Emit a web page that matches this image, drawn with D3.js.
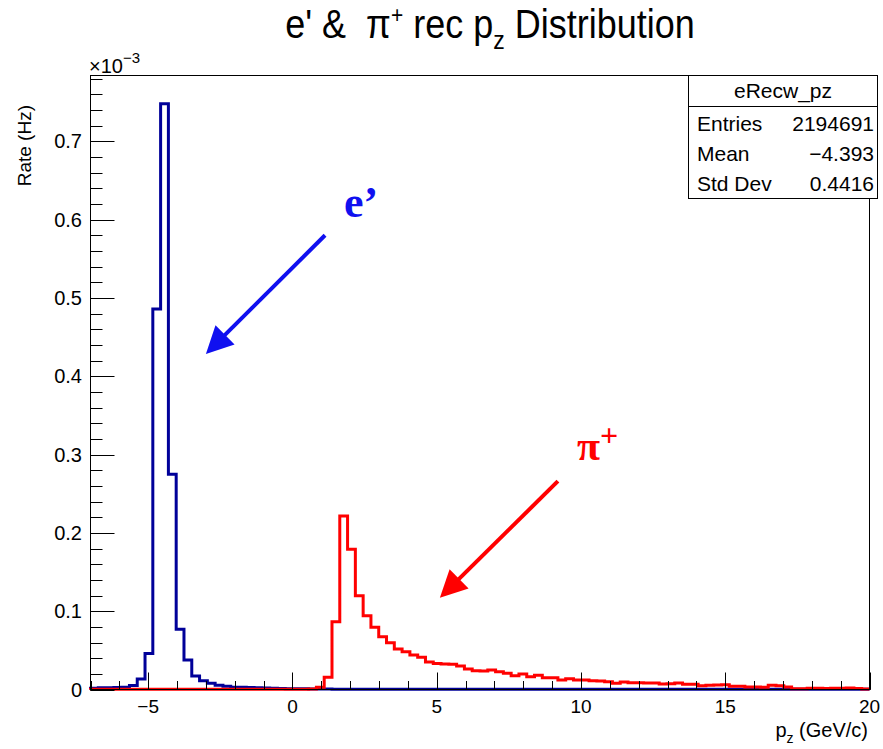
<!DOCTYPE html>
<html>
<head>
<meta charset="utf-8">
<script src="https://cdn.jsdelivr.net/npm/d3@7"></script>
<style>
  html, body { margin: 0; padding: 0; background: #ffffff; }
  svg { display: block; }
  text { font-family: "Liberation Sans", Arial, Helvetica, sans-serif; }
  text.serif { font-family: "Liberation Serif", "Times New Roman", serif; font-weight: bold; }
</style>
</head>
<body>
<svg id="chart" width="883" height="749"></svg>
<script>
// ---------------- data (rates in units of 1e-3 Hz) ----------------
const xMin = -7;
const xMax = 20;
const binWidth = 0.27;           // 100 bins from -7 to 20 GeV/c

const electronRate = [
  0.0015, 0.0023, 0.0023, 0.0025, 0.0029, 0.0052, 0.0134, 0.0460, 0.4860, 0.7480,
  0.2750, 0.0769, 0.0377, 0.0171, 0.0112, 0.0079, 0.0054, 0.0040, 0.0030, 0.0028,
  0.0027, 0.0022, 0.0020, 0.0015, 0.0013, 0.0011, 0.0009, 0.0008, 0.0006, 0.0005,
  0.0005, 0.0004, 0.0004, 0.0004, 0.0003, 0.0003, 0.0003, 0.0003, 0.0003, 0.0003,
  0.0003, 0.0003, 0.0002, 0.0002, 0.0002, 0.0002, 0.0002, 0.0002, 0.0002, 0.0002,
  0.0002, 0.0002, 0.0002, 0.0002, 0.0002, 0.0002, 0.0002, 0.0002, 0.0002, 0.0002,
  0.0002, 0.0002, 0.0002, 0.0002, 0.0002, 0.0002, 0.0002, 0.0002, 0.0002, 0.0002,
  0.0002, 0.0002, 0.0002, 0.0002, 0.0002, 0.0002, 0.0002, 0.0002, 0.0002, 0.0002,
  0.0002, 0.0002, 0.0002, 0.0002, 0.0002, 0.0002, 0.0002, 0.0002, 0.0002, 0.0002,
  0.0002, 0.0002, 0.0002, 0.0002, 0.0002, 0.0002, 0.0002, 0.0002, 0.0002, 0.0002
];

const pionRate = [
  0.0002, 0.0002, 0.0002, 0.0002, 0.0002, 0.0002, 0.0002, 0.0002, 0.0002, 0.0002,
  0.0002, 0.0002, 0.0002, 0.0002, 0.0002, 0.0002, 0.0002, 0.0002, 0.0002, 0.0002,
  0.0002, 0.0002, 0.0002, 0.0002, 0.0002, 0.0003, 0.0003, 0.0004, 0.0006, 0.0028,
  0.0156, 0.0866, 0.2216, 0.1790, 0.1198, 0.0943, 0.0794, 0.0674, 0.0598, 0.0517,
  0.0483, 0.0440, 0.0411, 0.0350, 0.0333, 0.0326, 0.0322, 0.0300, 0.0262, 0.0240,
  0.0236, 0.0249, 0.0227, 0.0207, 0.0176, 0.0198, 0.0164, 0.0181, 0.0151, 0.0151,
  0.0121, 0.0138, 0.0121, 0.0121, 0.0112, 0.0109, 0.0100, 0.0079, 0.0096, 0.0087,
  0.0087, 0.0083, 0.0083, 0.0070, 0.0074, 0.0083, 0.0066, 0.0066, 0.0049, 0.0053,
  0.0057, 0.0060, 0.0041, 0.0041, 0.0032, 0.0032, 0.0028, 0.0054, 0.0049, 0.0032,
  0.0010, 0.0010, 0.0015, 0.0015, 0.0012, 0.0015, 0.0015, 0.0019, 0.0012, 0.0007
];

const xMajorTicks = [-5, 0, 5, 10, 15, 20];
const xTickLabels = ["\u22125", "0", "5", "10", "15", "20"];
const yMajorTicks = [0, 0.1, 0.2, 0.3, 0.4, 0.5, 0.6, 0.7];
const yTickLabels = ["0", "0.1", "0.2", "0.3", "0.4", "0.5", "0.6", "0.7"];
const yMax = 0.784;

const statsName = "eRecw_pz";
const statsLabels = ["Entries", "Mean", "Std Dev"];
const statsValues = ["2194691", "\u22124.393", "0.4416"];

// annotation arrows in data coordinates: [x0, y0, x1(tip), y1(tip)]
const electronArrow = [1.13, 0.580, -3.0, 0.4285];
const pionArrow = [9.20, 0.266, 5.11, 0.117];

// ---------------- layout ----------------
const plot = { left: 90.5, right: 869.5, top: 75.5, bottom: 689.5 };
const svg = d3.select("#chart");

const x = d3.scaleLinear().domain([xMin, xMax]).range([plot.left, plot.right]);
const y = d3.scaleLinear().domain([0, yMax]).range([plot.bottom, plot.top]);

// ---------------- title ----------------
const title = svg.append("text")
  .attr("transform", "translate(490,38) scale(1,1.12)")
  .attr("text-anchor", "middle")
  .attr("font-size", 36)
  .style("white-space", "pre")
  .attr("xml:space", "preserve")
  .attr("fill", "#000");
title.append("tspan").text("e' &  \u03c0");
title.append("tspan").attr("font-size", 21).attr("dy", -13).text("+");
title.append("tspan").attr("dy", 13).text(" rec p");
title.append("tspan").attr("font-size", 23).attr("dy", 10).text("z");
title.append("tspan").attr("dy", -10).text(" Distribution");

// ---------------- histograms ----------------
function histPath(vals) {
  const pts = [[xMin, 0]];
  vals.forEach((v, i) => {
    const x0 = xMin + i * binWidth;
    pts.push([x0, v], [x0 + binWidth, v]);
  });
  pts.push([xMax, 0]);
  return d3.line().x(d => x(d[0])).y(d => y(d[1]))(pts);
}

svg.append("path")
  .attr("d", histPath(electronRate))
  .attr("fill", "none")
  .attr("stroke", "#000099")
  .attr("stroke-width", 3)
  .attr("stroke-linejoin", "miter");

svg.append("path")
  .attr("d", histPath(pionRate))
  .attr("fill", "none")
  .attr("stroke", "#ff0000")
  .attr("stroke-width", 3)
  .attr("stroke-linejoin", "miter");

// ---------------- frame ----------------
svg.append("rect")
  .attr("x", plot.left).attr("y", plot.top)
  .attr("width", plot.right - plot.left).attr("height", plot.bottom - plot.top)
  .attr("fill", "none").attr("stroke", "#000").attr("stroke-width", 1);

// ---------------- y axis ----------------
const yMinor = d3.range(0, yMax + 1e-9, 0.02).map(v => +v.toFixed(2));
const yAxisG = svg.append("g");
yAxisG.selectAll("line.minor").data(yMinor).join("line")
  .attr("x1", plot.left).attr("x2", plot.left + 12)
  .attr("y1", d => Math.round(y(d)) + 0.5).attr("y2", d => Math.round(y(d)) + 0.5)
  .attr("stroke", "#000").attr("stroke-width", 1);
yAxisG.selectAll("line.major").data(yMajorTicks).join("line")
  .attr("x1", plot.left).attr("x2", plot.left + 24)
  .attr("y1", d => Math.round(y(d)) + 0.5).attr("y2", d => Math.round(y(d)) + 0.5)
  .attr("stroke", "#000").attr("stroke-width", 1);
yAxisG.selectAll("text").data(yMajorTicks).join("text")
  .attr("x", 82).attr("y", d => y(d) + 7)
  .attr("text-anchor", "end").attr("font-size", 20)
  .text((d, i) => yTickLabels[i]);

// exponent label
const expo = svg.append("text").attr("x", 89).attr("y", 73).attr("font-size", 20);
expo.append("tspan").text("\u00d710");
expo.append("tspan").attr("font-size", 15).attr("dy", -10).text("\u22123");

// y title
svg.append("text")
  .attr("transform", "translate(31,105) rotate(-90)")
  .attr("text-anchor", "end")
  .attr("font-size", 19)
  .text("Rate (Hz)");

// ---------------- x axis ----------------
const xMinor = d3.range(xMin, xMax + 1e-9, 1);
const xAxisG = svg.append("g");
xAxisG.selectAll("line.minor").data(xMinor).join("line")
  .attr("x1", d => Math.round(x(d)) + 0.5).attr("x2", d => Math.round(x(d)) + 0.5)
  .attr("y1", plot.bottom).attr("y2", plot.bottom - 8.5)
  .attr("stroke", "#000").attr("stroke-width", 1);
xAxisG.selectAll("line.major").data(xMajorTicks).join("line")
  .attr("x1", d => Math.round(x(d)) + 0.5).attr("x2", d => Math.round(x(d)) + 0.5)
  .attr("y1", plot.bottom).attr("y2", plot.bottom - 17)
  .attr("stroke", "#000").attr("stroke-width", 1);
xAxisG.selectAll("text").data(xMajorTicks).join("text")
  .attr("x", d => x(d)).attr("y", 713)
  .attr("text-anchor", "middle").attr("font-size", 19)
  .text((d, i) => xTickLabels[i]);

// x title
const xt = svg.append("text").attr("x", 868).attr("y", 737)
  .attr("text-anchor", "end").attr("font-size", 20);
xt.append("tspan").text("p");
xt.append("tspan").attr("font-size", 14).attr("dy", 6).text("z");
xt.append("tspan").attr("dy", -6).text(" (GeV/c)");

// ---------------- stats box ----------------
const sb = { x0: 688.5, x1: 877.5, y0: 75.5, y1: 198.5, sep: 106.5 };
svg.append("rect")
  .attr("x", sb.x0).attr("y", sb.y0)
  .attr("width", sb.x1 - sb.x0).attr("height", sb.y1 - sb.y0)
  .attr("fill", "#fff").attr("stroke", "#000").attr("stroke-width", 1);
svg.append("line")
  .attr("x1", sb.x0).attr("x2", sb.x1).attr("y1", sb.sep).attr("y2", sb.sep)
  .attr("stroke", "#000").attr("stroke-width", 1);
svg.append("text")
  .attr("x", (sb.x0 + sb.x1) / 2).attr("y", 98)
  .attr("text-anchor", "middle").attr("font-size", 21)
  .text(statsName);
statsLabels.forEach((lab, i) => {
  svg.append("text").attr("x", 697).attr("y", 131 + i * 30)
    .attr("font-size", 21).text(lab);
  svg.append("text").attr("x", 874).attr("y", 131 + i * 30)
    .attr("text-anchor", "end").attr("font-size", 21).text(statsValues[i]);
});

// ---------------- annotations ----------------
function arrow(a, color) {
  const sx = x(a[0]), sy = y(a[1]), tx = x(a[2]), ty = y(a[3]);
  const ang = Math.atan2(ty - sy, tx - sx);
  const headLen = 27, headHalf = 13.5;
  const bx = tx - headLen * Math.cos(ang), by = ty - headLen * Math.sin(ang);
  const px = -Math.sin(ang), py = Math.cos(ang);
  svg.append("line")
    .attr("x1", sx).attr("y1", sy)
    .attr("x2", bx + 4 * Math.cos(ang)).attr("y2", by + 4 * Math.sin(ang))
    .attr("stroke", color).attr("stroke-width", 4);
  svg.append("path")
    .attr("d", `M${tx},${ty}L${bx + headHalf * px},${by + headHalf * py}L${bx - headHalf * px},${by - headHalf * py}Z`)
    .attr("fill", color);
}
arrow(electronArrow, "#1010f0");
arrow(pionArrow, "#ff0000");

svg.append("text")
  .attr("class", "serif")
  .attr("x", 344).attr("y", 217)
  .attr("font-size", 44).attr("fill", "#1010f0")
  .text("e\u2019");

const pl = svg.append("text")
  .attr("class", "serif")
  .attr("x", 577).attr("y", 460)
  .attr("font-size", 42).attr("fill", "#ff0000");
pl.append("tspan").text("\u03c0");
pl.append("tspan").attr("font-size", 32).attr("dy", -14).text("+");
</script>
</body>
</html>
